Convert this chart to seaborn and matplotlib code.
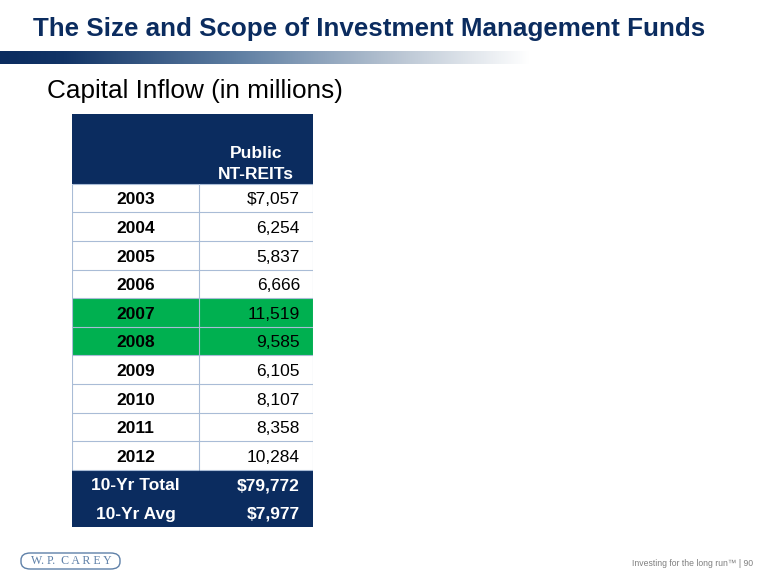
import numpy as np
import pandas as pd
import matplotlib
matplotlib.use("Agg")
import matplotlib.pyplot as plt
from matplotlib.colors import ListedColormap, LinearSegmentedColormap
from matplotlib.patches import Rectangle, FancyBboxPatch
import seaborn as sns

# données du tableau
years = [2003, 2004, 2005, 2006, 2007, 2008, 2009, 2010, 2011, 2012]
inflows = [7057, 6254, 5837, 6666, 11519, 9585, 6105, 8107, 8358, 10284]
highlight_years = [2007, 2008]
summary_labels = ["10-Yr Total", "10-Yr Avg"]
column_header = "Public\nNT-REITs"

total = sum(inflows)
avg = total / len(inflows)

row_labels = [str(y) for y in years] + summary_labels
value_labels = [f"${inflows[0]:,}"] + [f"{v:,}" for v in inflows[1:]] + [f"${total:,}", f"${avg:,.0f}"]
# code couleur des lignes : 0 blanc, 1 vert, 2 bleu marine
row_codes = [1 if y in highlight_years else 0 for y in years] + [2] * len(summary_labels)
df = pd.DataFrame({"label": row_labels, "value": value_labels, "code": row_codes})

navy = "#0B2C5F"
green = "#00B050"
grid = "#A9BCD6"
cmap = ListedColormap(["white", green, navy])

sns.set_theme(style="white")
plt.rcParams["font.family"] = ["Liberation Sans", "DejaVu Sans"]

W, H = 780, 585
fig = plt.figure(figsize=(W / 100, H / 100), dpi=100)

def fy(py):
    return 1 - py / H

# titre + bande dégradée
fig.text(33 / W, fy(29), "The Size and Scope of Investment Management Funds",
         fontsize=18.7, fontweight="bold", color=navy, va="center")
ax_g = fig.add_axes([0, fy(64), 1, 13 / H])
grad_cmap = LinearSegmentedColormap.from_list(
    "grad", [(0, navy), (0.12, "#123466"), (0.45, "#5F7FA3"), (0.75, "#B9C5D3"), (1, "white")])
ax_g.imshow(np.linspace(0, 1, 256).reshape(1, -1), aspect="auto", cmap=grad_cmap,
            extent=[0, 530, 0, 1])
ax_g.set_xlim(0, W)
ax_g.set_axis_off()

fig.text(47 / W, fy(91), "Capital Inflow (in millions)", fontsize=18.8, color="black", va="center")

# tableau : deux colonnes de largeur différente
n = len(df)
hdr = 70 / 28.67
top, bottom = 114, 527
ax_l = fig.add_axes([72 / W, fy(bottom), 127 / W, (bottom - top) / H])
ax_r = fig.add_axes([199 / W, fy(bottom), 114 / W, (bottom - top) / H])

for ax in (ax_l, ax_r):
    sns.heatmap(df[["code"]].values, ax=ax, cmap=cmap, vmin=0, vmax=2, cbar=False,
                xticklabels=False, yticklabels=False, linewidths=0)
    ax.add_patch(Rectangle((0, -hdr), 1, hdr, color=navy, lw=0))
    ax.set_ylim(n, -hdr)
    ax.set_xlim(0, 1)
    ax.set_axis_off()
    n_grid = len(years)
    ax.hlines(range(n_grid + 1), 0, 1, color=grid, lw=0.8)
    ax.vlines([0, 1], 0, n_grid, color=grid, lw=0.8)

for i, row in df.iterrows():
    c = "white" if row["code"] == 2 else "black"
    ax_l.text(0.5, i + 0.56, row["label"], ha="center", va="center", fontsize=12.5,
              fontweight="bold", color=c)
    ax_r.text(0.885, i + 0.56, row["value"], ha="right", va="center", fontsize=12.5,
              fontweight="bold" if row["code"] == 2 else "normal", color=c)

ax_r.text(0.5, -0.08, column_header, ha="center", va="bottom", fontsize=12.5,
          fontweight="bold", color="white", linespacing=1.45)

# pied de page
logo_col = "#5E80A8"
fig.patches.append(FancyBboxPatch((21 / W, fy(569)), 99 / W, 16 / H,
                                  boxstyle="round,pad=0,rounding_size=0.012",
                                  transform=fig.transFigure, fill=False,
                                  ec=logo_col, lw=1.0))
fig.text(71 / W, fy(561), "W. P.  C A R E Y", fontsize=8.6, color=logo_col,
         ha="center", va="center", family="Liberation Serif")
fig.text(753 / W, fy(563), "Investing for the long run™ | 90", fontsize=6.2,
         color="#7F7F7F", ha="right", va="center")

fig.savefig("out.png", dpi=100)
